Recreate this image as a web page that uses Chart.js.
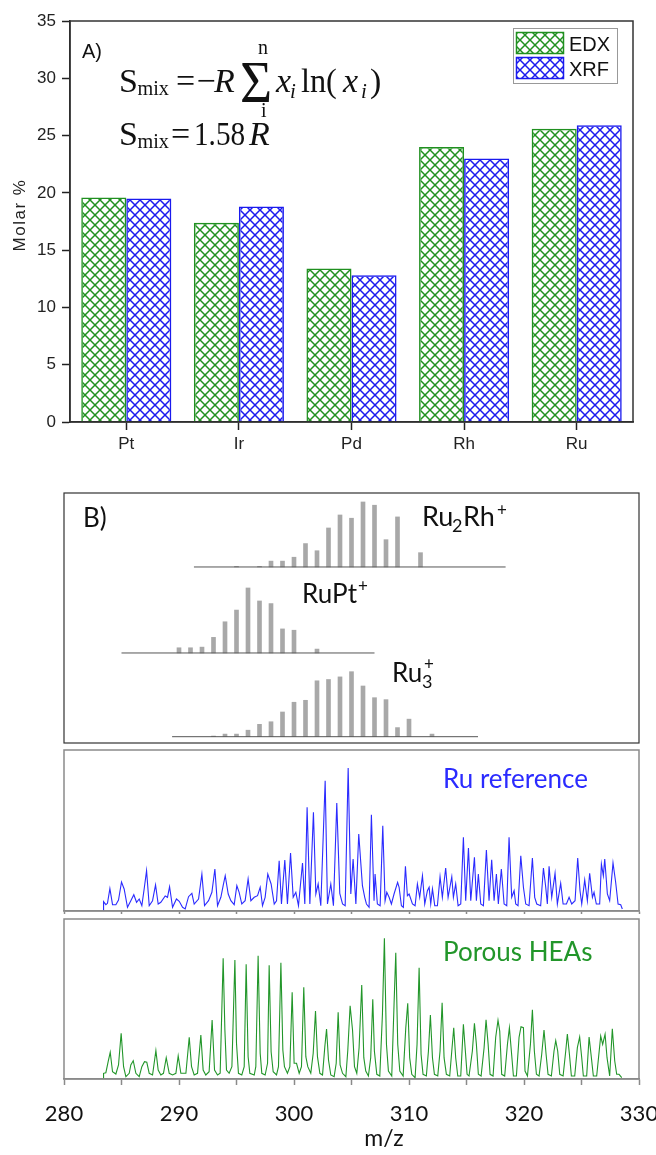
<!DOCTYPE html>
<html>
<head>
<meta charset="utf-8">
<script src="https://cdn.jsdelivr.net/npm/chart.js@4.4.0/dist/chart.umd.min.js"></script>
<style>
  body { margin: 0; background: #fff; width: 656px; height: 1155px; position: relative; overflow: hidden; }
  canvas { position: absolute; left: 0; }
</style>
</head>
<body>
<canvas id="barCanvas" width="656" height="470" style="top:0px"></canvas>
<canvas id="isoCanvas" width="656" height="265" style="top:485px"></canvas>
<canvas id="refCanvas" width="656" height="170" style="top:746px"></canvas>
<canvas id="heaCanvas" width="656" height="239" style="top:916px"></canvas>
<script>
// ---- datos panel A (% molar) ----
var elementos = ["Pt", "Ir", "Pd", "Rh", "Ru"];
var edx = [19.6, 17.4, 13.4, 24.0, 25.6];
var xrf = [19.5, 18.8, 12.8, 23.0, 25.9];

// ---- patrones isotópicos calculados (intensidad relativa) ----
var ru2rhMz  = [295, 297, 298, 299, 300, 301, 302, 303, 304, 305, 306, 307, 308, 309, 311];
var ru2rhInt = [1, 1, 9, 9, 15, 36, 25, 60, 80, 75, 100, 95, 42, 77, 22];
var ruptMz  = [290, 291, 292, 293, 294, 295, 296, 297, 298, 299, 300, 302];
var ruptInt = [8, 8, 9, 24, 48, 66, 100, 80, 76, 37, 35, 6];
var ru3Mz  = [293, 294, 295, 296, 297, 298, 299, 300, 301, 302, 303, 304, 305, 306, 307, 308, 309, 310, 312];
var ru3Int = [1, 4, 4, 10, 19, 23, 38, 53, 56, 86, 88, 92, 100, 78, 60, 57, 14, 27, 4];

// ---- espectros medidos [m/z, intensidad] ----
var ruReference = [
  [283.42,1],[283.44,9.3],[283.64,6.3],[283.78,7.7],[283.99,22.3],[284.22,6.3],[284.51,6.3],[284.74,11],
  [285.00,29],[285.23,22],[285.52,3.7],[285.81,10.3],[286.07,16.3],[286.31,8.7],[286.54,12],[286.77,5.3],
  [286.97,22],[287.18,40.3],[287.41,5.3],[287.70,10.3],[287.96,26],[288.19,7],[288.42,8.7],[288.80,15],
  [289.00,13.7],[289.18,24.3],[289.44,3.7],[289.78,12],[290.02,9.7],[290.31,3.7],[290.54,2],[290.83,14.3],
  [291.12,17.7],[291.32,7],[291.70,12],[291.99,37],[292.22,5.3],[292.57,10.3],[292.86,18.7],[293.12,42],
  [293.35,5.3],[293.64,13.7],[293.84,25.3],[294.02,35.3],[294.28,17],[294.51,10.3],[294.80,6.3],[295.03,25.3],
  [295.23,18.7],[295.46,7],[295.75,10.3],[296.01,32],[296.25,10.3],[296.54,13.7],[296.83,15.3],[297.06,23.7],
  [297.26,5.3],[297.49,13.7],[297.72,37],[298.01,27],[298.28,7],[298.48,10.3],[298.71,50.3],[298.91,7],
  [299.20,51],[299.43,7],[299.70,58],[299.93,13.7],[300.16,18.7],[300.39,5.3],[300.74,48],[300.94,7],
  [301.14,103.7],[301.38,7],[301.69,98.7],[301.90,17],[302.10,27],[302.33,5.3],[302.71,130.3],[302.91,7],
  [303.20,27],[303.43,5.3],[303.72,108],[303.98,17.7],[304.22,7],[304.45,5.3],[304.71,143],[304.94,17],
  [305.14,52],[305.38,7],[305.63,77],[305.95,25.3],[306.15,13.7],[306.30,7],[306.53,3.7],[306.73,96.3],
  [306.96,10.3],[307.05,37],[307.25,7],[307.49,5.3],[307.72,85.3],[307.92,10.3],[308.07,18.7],[308.27,13.7],
  [308.47,7],[308.70,17],[309.01,28.7],[309.14,23.7],[309.34,5.3],[309.51,3.7],[309.69,44.7],[309.86,15.3],
  [310.01,17],[310.30,7],[310.53,5.3],[310.73,27],[310.93,13.7],[311.17,35.3],[311.37,7],[311.60,20.3],
  [311.75,23.7],[311.89,7],[312.04,22],[312.24,5.3],[312.47,5.3],[312.70,34.3],[312.90,13.7],[313.19,43],
  [313.40,13.7],[313.72,34.3],[313.86,13.7],[314.06,27],[314.27,5.3],[314.50,7],[314.73,73.7],[314.93,10.3],
  [315.17,63],[315.37,10.3],[315.69,53.7],[315.86,10.3],[316.03,37],[316.24,7],[316.47,5.3],[316.73,61],
  [316.96,10.3],[317.19,51.3],[317.40,10.3],[317.60,37],[317.77,7],[318.03,42],[318.27,7],[318.50,5.3],
  [318.70,73.7],[318.93,13.7],[319.14,20.3],[319.28,7],[319.48,5.3],[319.72,55.3],[319.95,23.7],[320.15,7],
  [320.44,5.3],[320.73,53],[320.93,13.7],[321.11,7],[321.45,5.3],[321.69,43],[321.89,23.7],[322.03,7],
  [322.18,44.7],[322.41,13.7],[322.70,37.7],[322.90,7],[323.19,27.7],[323.40,7],[323.69,7],[323.92,13.7],
  [324.15,7],[324.44,10.3],[324.67,53],[324.87,20.3],[325.02,7],[325.28,31],[325.51,10.3],[325.71,37.7],
  [325.95,13.7],[326.09,18.7],[326.29,7],[326.58,7],[326.73,47],[326.90,35.3],[327.02,52],[327.25,17],
  [327.45,10.3],[327.74,48],[327.97,28.7],[328.18,7],[328.41,6.3],[328.55,2]
];
var porousHEAs = [
  [283.42,1],[283.44,5.7],[283.64,6.3],[283.84,17.3],[284.02,26.7],[284.22,7.3],[284.51,5],[284.74,14],
  [284.97,45.7],[285.18,12.3],[285.38,2.3],[285.67,5.7],[285.81,14],[286.02,18.3],[286.25,5.7],[286.54,2.3],
  [286.77,12.3],[287.00,17.3],[287.20,16.7],[287.41,5.7],[287.70,4],[287.99,28.3],[288.19,9],[288.42,4],
  [288.65,5.7],[288.89,21.3],[289.15,5.7],[289.44,4],[289.73,5.7],[289.93,23],[290.16,5.7],[290.60,5.7],
  [290.89,41.7],[291.09,12.3],[291.32,4],[291.61,5.7],[291.90,44],[292.10,9],[292.33,4],[292.62,7.3],
  [292.88,59],[293.09,9],[293.35,4],[293.58,5.7],[293.84,120.7],[293.99,49],[294.13,9],[294.36,5.7],
  [294.60,12.3],[294.86,119],[295.00,35.7],[295.17,5.7],[295.46,4],[295.67,12.3],[295.84,114.7],[296.01,22.3],
  [296.16,5.7],[296.54,4],[296.68,12.3],[296.88,123.3],[297.06,25.7],[297.20,5.7],[297.49,4],[297.70,15.7],
  [297.84,113.7],[298.01,27.3],[298.19,7.3],[298.48,4],[298.65,12.3],[298.86,116.3],[299.03,29],[299.17,12.3],
  [299.43,5.7],[299.64,12.3],[299.84,86.7],[300.01,15.7],[300.22,15.7],[300.45,5.7],[300.65,12.3],[300.85,91.7],
  [301.03,22.3],[301.20,12.3],[301.46,5.7],[301.67,25.7],[301.87,68],[302.04,22.3],[302.25,5.7],[302.48,4],
  [302.68,32.3],[302.83,50],[303.00,19],[303.20,4],[303.49,2.3],[303.67,15.7],[303.84,66.7],[304.01,14],
  [304.22,5.7],[304.51,2.3],[304.68,29],[304.88,73.3],[305.09,49],[305.26,12.3],[305.46,5.7],[305.66,31.3],
  [305.89,94],[306.07,21.3],[306.24,8],[306.47,3],[306.67,21.3],[306.85,79.7],[306.99,28],[307.20,4.7],
  [307.46,3],[307.69,64.7],[307.86,140.7],[308.04,34.7],[308.21,8],[308.50,3],[308.70,74.7],[308.85,126.3],
  [309.02,34.7],[309.20,8],[309.49,3],[309.72,51.3],[309.89,75.7],[310.06,21.3],[310.24,4.7],[310.53,1.3],
  [310.70,34.7],[310.88,111.3],[311.05,24.7],[311.22,4.7],[311.51,3],[311.69,28],[311.86,64],[312.04,21.3],
  [312.21,4.7],[312.50,3],[312.70,28],[312.88,76.3],[313.05,21.3],[313.25,4.7],[313.54,3],[313.72,28],
  [313.89,51.3],[314.06,21.3],[314.24,3],[314.50,3],[314.73,54.7],[314.88,31.3],[315.05,4.7],[315.22,3],
  [315.51,28],[315.69,55.7],[315.86,34.7],[316.03,4.7],[316.27,3],[316.53,31.3],[316.70,59.3],[316.88,34.7],
  [317.05,4.7],[317.31,3],[317.54,41.7],[317.74,58.7],[317.89,48],[318.06,4.7],[318.32,3],[318.56,34.7],
  [318.73,51.3],[318.90,28],[319.08,3],[319.34,3],[319.57,41.7],[319.74,52.3],[319.95,51.3],[320.09,8],
  [320.30,3],[320.56,34.7],[320.73,69.3],[320.90,28],[321.08,4.7],[321.31,3],[321.54,24.7],[321.74,49],
  [321.92,24.7],[322.09,4.7],[322.38,3],[322.61,28],[322.76,38.3],[322.93,28],[323.11,4.7],[323.40,3],
  [323.63,28],[323.77,45],[323.95,24.7],[324.12,3],[324.41,3],[324.64,31.3],[324.84,42],[325.02,21.3],
  [325.16,3],[325.45,3],[325.66,42],[325.86,21.3],[326.03,3],[326.32,3],[326.67,43],[326.84,34.7],
  [327.05,44.7],[327.22,21.3],[327.45,3],[327.68,50.3],[327.89,18],[328.06,4.7],[328.26,4.7],[328.50,1.3]
];

// ---- estilos ----
var verde = "#209020";
var azul = "#1a1aee";
var negro = "#222";
var gris = "#8a8a8a";
var sans = "'Liberation Sans', Arial, sans-serif";
var serif = "'Liberation Serif', 'Times New Roman', serif";
var calibri = "Lato, 'Open Sans', sans-serif";
// desplazamiento vertical de cada patrón y extensión de su línea base (m/z)
var desplazamientos = [270.8, 138.5, 9.7];
var rangosBase = [[291.3, 318.4], [285.0, 307.0], [289.4, 316.0]];

function trama(ctx, color) {
  var c = document.createElement("canvas");
  c.width = 10; c.height = 10;
  var g = c.getContext("2d");
  g.strokeStyle = color; g.lineWidth = 1.5;
  g.beginPath();
  g.moveTo(-2, -2); g.lineTo(12, 12);
  g.moveTo(12, -2); g.lineTo(-2, 12);
  g.stroke();
  return ctx.createPattern(c, "repeat");
}

// texto con compresión horizontal opcional (sx)
function escribe(ctx, s, x, y, font, color, sx) {
  sx = sx || 1;
  ctx.save();
  ctx.font = font;
  ctx.fillStyle = color || negro;
  ctx.textBaseline = "alphabetic";
  ctx.textAlign = "left";
  ctx.scale(sx, 1);
  ctx.fillText(s, x / sx, y);
  ctx.restore();
}

// ================= Panel A =================
var barCtx = document.getElementById("barCanvas").getContext("2d");
var tramaVerde = trama(barCtx, verde);
var tramaAzul = trama(barCtx, azul);

var marcoA = {
  id: "marcoA",
  afterDraw: function (chart) {
    var a = chart.chartArea, ctx = chart.ctx;
    ctx.save();
    ctx.strokeStyle = "#333"; ctx.lineWidth = 1.5;
    ctx.strokeRect(a.left, a.top, a.right - a.left, a.bottom - a.top);
    // título del eje y
    ctx.save();
    ctx.translate(20, 215);
    ctx.rotate(-Math.PI / 2);
    ctx.font = "17px " + sans;
    ctx.letterSpacing = "1.5px";
    ctx.fillStyle = negro;
    ctx.textAlign = "center";
    ctx.textBaseline = "middle";
    ctx.fillText("Molar %", 0, 0);
    ctx.restore();
    // leyenda
    ctx.strokeStyle = "#999"; ctx.lineWidth = 1;
    ctx.strokeRect(513.5, 28.5, 104, 55);
    var items = [["EDX", tramaVerde, verde, 32], ["XRF", tramaAzul, azul, 57]];
    items.forEach(function (it) {
      ctx.fillStyle = it[1];
      ctx.fillRect(516, it[3], 48, 22);
      ctx.strokeStyle = it[2]; ctx.lineWidth = 1.5;
      ctx.strokeRect(516.5, it[3] + 0.5, 47, 21);
      escribe(ctx, it[0], 569, it[3] + 19, "20px " + sans, "#111");
    });
    // rótulo y fórmulas
    escribe(ctx, "A)", 82, 58, "20px " + sans, "#111");
    var f = "#111";
    escribe(ctx, "S", 119, 91.5, "34px " + serif, f);
    escribe(ctx, "mix", 137.5, 94.5, "22px " + serif, f, 0.92);
    escribe(ctx, "=", 176, 91.5, "34px " + serif, f);
    escribe(ctx, "\u2212", 196.5, 91.5, "34px " + serif, f);
    escribe(ctx, "R", 214, 91.5, "italic 34px " + serif, f);
    escribe(ctx, "\u03A3", 240, 101.5, "60px " + serif, f, 0.92);
    escribe(ctx, "n", 258, 54, "20px " + serif, f);
    escribe(ctx, "i", 261, 117, "20px " + serif, f);
    escribe(ctx, "x", 276, 91.5, "italic 34px " + serif, f);
    escribe(ctx, "i", 290, 98, "italic 21px " + serif, f);
    escribe(ctx, "ln(", 301, 91.5, "34px " + serif, f, 0.95);
    escribe(ctx, "x", 343, 91.5, "italic 34px " + serif, f);
    escribe(ctx, "i", 361, 98, "italic 21px " + serif, f);
    escribe(ctx, ")", 370, 91.5, "34px " + serif, f);

    escribe(ctx, "S", 119, 145, "34px " + serif, f);
    escribe(ctx, "mix", 137.5, 148, "22px " + serif, f, 0.92);
    escribe(ctx, "=", 171, 145, "34px " + serif, f);
    escribe(ctx, "1.58", 194, 145, "34px " + serif, f, 0.86);
    escribe(ctx, "R", 249, 145, "italic 34px " + serif, f);
    ctx.restore();
  }
};

new Chart(barCtx, {
  type: "bar",
  data: {
    labels: elementos,
    datasets: [
      { label: "EDX", data: edx, backgroundColor: tramaVerde, borderColor: verde, borderWidth: 1.5 },
      { label: "XRF", data: xrf, backgroundColor: tramaAzul, borderColor: azul, borderWidth: 1.5 }
    ]
  },
  options: {
    responsive: false,
    animation: false,
    layout: { padding: { left: 0, top: 21, right: 23, bottom: 0 } },
    datasets: { bar: { categoryPercentage: 0.8, barPercentage: 1.0 } },
    plugins: { legend: { display: false }, tooltip: { enabled: false } },
    scales: {
      x: {
        grid: { offset: false, drawOnChartArea: false, tickLength: 8, color: negro, tickWidth: 1.5 },
        border: { color: negro, width: 1.5 },
        ticks: { color: negro, font: { family: sans, size: 17 }, padding: 4 },
        afterFit: function (s) { s.height = 48; }
      },
      y: {
        min: 0, max: 35,
        ticks: { stepSize: 5, color: negro, font: { family: sans, size: 17 }, padding: 6 },
        grid: { drawOnChartArea: false, tickLength: 8, color: negro, tickWidth: 1.5 },
        border: { color: negro, width: 1.5 },
        afterFit: function (s) { s.width = 70; }
      }
    }
  },
  plugins: [marcoA]
});

// ================= Panel B: patrones =================
function palitos(mz, vals, off) {
  return {
    type: "bar",
    data: mz.map(function (m, i) { return { x: m, y: [off, off + vals[i]] }; }),
    backgroundColor: "#a8a8a8", barThickness: 4, grouped: false, borderWidth: 0
  };
}
function lineaBase(r, off) {
  return {
    type: "line",
    data: [{ x: r[0], y: off }, { x: r[1], y: off }],
    borderColor: "#555", borderWidth: 1, pointRadius: 0
  };
}

var marcoIso = {
  id: "marcoIso",
  afterDraw: function (chart) {
    var a = chart.chartArea, ctx = chart.ctx;
    ctx.save();
    ctx.strokeStyle = "#333"; ctx.lineWidth = 1.2;
    ctx.strokeRect(a.left, a.top, a.right - a.left, a.bottom - a.top);
    escribe(ctx, "B)", 83, 42, "26px " + calibri, "#111");
    // Ru2Rh+
    escribe(ctx, "Ru", 422, 41, "27px " + calibri, "#111");
    escribe(ctx, "2", 452, 47, "18px " + calibri, "#111");
    escribe(ctx, "Rh", 463, 41, "27px " + calibri, "#111");
    escribe(ctx, "+", 497, 31, "17px " + calibri, "#111");
    // RuPt+
    escribe(ctx, "RuPt", 302, 118, "26px " + calibri, "#111");
    escribe(ctx, "+", 358, 107, "17px " + calibri, "#111");
    // Ru3+
    escribe(ctx, "Ru", 392, 197, "26px " + calibri, "#111");
    escribe(ctx, "3", 422, 203, "18px " + calibri, "#111");
    escribe(ctx, "+", 424, 185, "17px " + calibri, "#111");
    ctx.restore();
  }
};

new Chart(document.getElementById("isoCanvas"), {
  type: "bar",
  data: {
    datasets: [
      lineaBase(rangosBase[0], desplazamientos[0]),
      lineaBase(rangosBase[1], desplazamientos[1]),
      lineaBase(rangosBase[2], desplazamientos[2]),
      palitos(ru2rhMz, ru2rhInt, desplazamientos[0]),
      palitos(ruptMz, ruptInt, desplazamientos[1]),
      palitos(ru3Mz, ru3Int, desplazamientos[2])
    ]
  },
  options: {
    responsive: false,
    animation: false,
    layout: { padding: { left: 64, right: 17, top: 8, bottom: 7 } },
    plugins: { legend: { display: false }, tooltip: { enabled: false } },
    scales: {
      x: { type: "linear", min: 280, max: 330, offset: false, display: false },
      y: { min: 0, max: 384.6, display: false }
    }
  },
  plugins: [marcoIso]
});

// ================= Panel B: espectros =================
function espectro(id, datos, color, etiqueta, baseEtiqueta, yMax, conTextos) {
  var marco = {
    id: "marco" + id,
    afterDraw: function (chart) {
      var a = chart.chartArea, ctx = chart.ctx;
      ctx.save();
      ctx.strokeStyle = gris; ctx.lineWidth = 1.5;
      ctx.strokeRect(a.left, a.top, a.right - a.left, a.bottom - a.top);
      escribe(ctx, etiqueta, 443, baseEtiqueta, "26px " + calibri, color);
      if (conTextos) {
        ctx.font = "23px " + calibri;
        ctx.fillStyle = "#111";
        ctx.textAlign = "center";
        ctx.textBaseline = "middle";
        ctx.fillText("m/z", 384, 223);
      }
      ctx.restore();
    }
  };
  return new Chart(document.getElementById(id), {
    type: "line",
    data: {
      datasets: [{
        data: datos.map(function (p) { return { x: p[0], y: p[1] }; }),
        borderColor: color, borderWidth: 1.1, pointRadius: 0, tension: 0
      }]
    },
    options: {
      responsive: false,
      animation: false,
      layout: { padding: { left: 64, right: 17, top: conTextos ? 3 : 4, bottom: 0 } },
      plugins: { legend: { display: false }, tooltip: { enabled: false } },
      scales: {
        x: {
          type: "linear", min: 280, max: 330,
          grid: { drawOnChartArea: false, tickLength: conTextos ? 6 : 3, color: gris, tickWidth: 1.5 },
          border: { color: gris, width: 1.5 },
          ticks: {
            display: conTextos, stepSize: 5, color: "#111", padding: 16,
            font: { family: calibri, size: 22 },
            callback: function (v) { return v % 10 === 0 ? String(v) : ""; }
          },
          afterFit: function (s) { s.height = conTextos ? 76 : 5; s.paddingLeft = 0; s.paddingRight = 0; }
        },
        y: { min: 0, max: yMax, display: false }
      }
    },
    plugins: [marco]
  });
}

espectro("refCanvas", ruReference, "#2b2bff", "Ru reference", 42, 161, false);
espectro("heaCanvas", porousHEAs, "#22962a", "Porous HEAs", 45, 160, true);
</script>
</body>
</html>
